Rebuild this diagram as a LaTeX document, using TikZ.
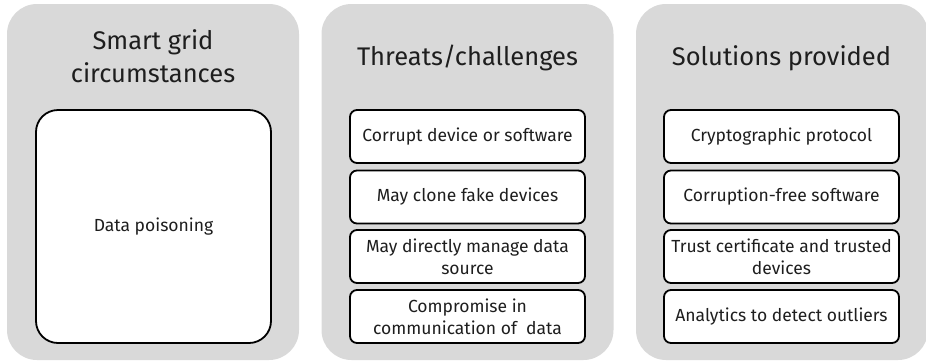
\documentclass[tikz,border=0pt]{standalone}
\usepackage{fontspec}
\setmainfont{Fira Sans}
\definecolor{panelgray}{HTML}{D9D9D9}
\definecolor{textdark}{HTML}{1E1E1E}
\tikzset{
  panel/.style={fill=panelgray, draw=none, rounded corners=30pt, minimum width=292pt, minimum height=356pt, inner sep=0pt},
  title/.style={font=\fontsize{25.5}{33}\selectfont, text=textdark, align=center, inner sep=0pt},
  itembox/.style={draw=black, line width=1.8pt, fill=white, rounded corners=7pt, minimum width=235pt, minimum height=53pt, inner sep=0pt, align=center, font=\fontsize{17.5}{22}\selectfont, text=textdark},
  bigbox/.style={draw=black, line width=1.8pt, fill=white, rounded corners=22pt, minimum width=235pt, minimum height=233pt, inner sep=0pt, align=center, font=\fontsize{17.5}{22}\selectfont, text=textdark}
}
\begin{document}
\begin{tikzpicture}[x=1pt,y=-1pt]
\useasboundingbox (0,0) rectangle (926,360);
\node[panel] (p1) at (153,182) {};
\node[panel] (p2) at (467.5,182) {};
\node[panel] (p3) at (782,182) {};
\node[title] (t1) at (153,56) {Smart grid\\circumstances};
\node[title] (t2) at (467.5,58) {Threats/challenges};
\node[title] (t3) at (781.5,58) {Solutions provided};
\node[bigbox] (dp) at (153.5,226.5) {Data poisoning};
\node[itembox] (a1) at (467.5,136.5) {Corrupt device or software};
\node[itembox] (a2) at (467.5,197) {May clone fake devices};
\node[itembox] (a3) at (467.5,256.5) {May directly manage data\\source};
\node[itembox] (a4) at (467.5,316.5) {Compromise in\\communication of\ \ data};
\node[itembox] (b1) at (781.5,136.5) {Cryptographic protocol};
\node[itembox] (b2) at (781.5,197) {Corruption-free software};
\node[itembox] (b3) at (781.5,256.5) {Trust certificate and trusted\\devices};
\node[itembox] (b4) at (781.5,316.5) {Analytics to detect outliers};
\end{tikzpicture}
\end{document}
